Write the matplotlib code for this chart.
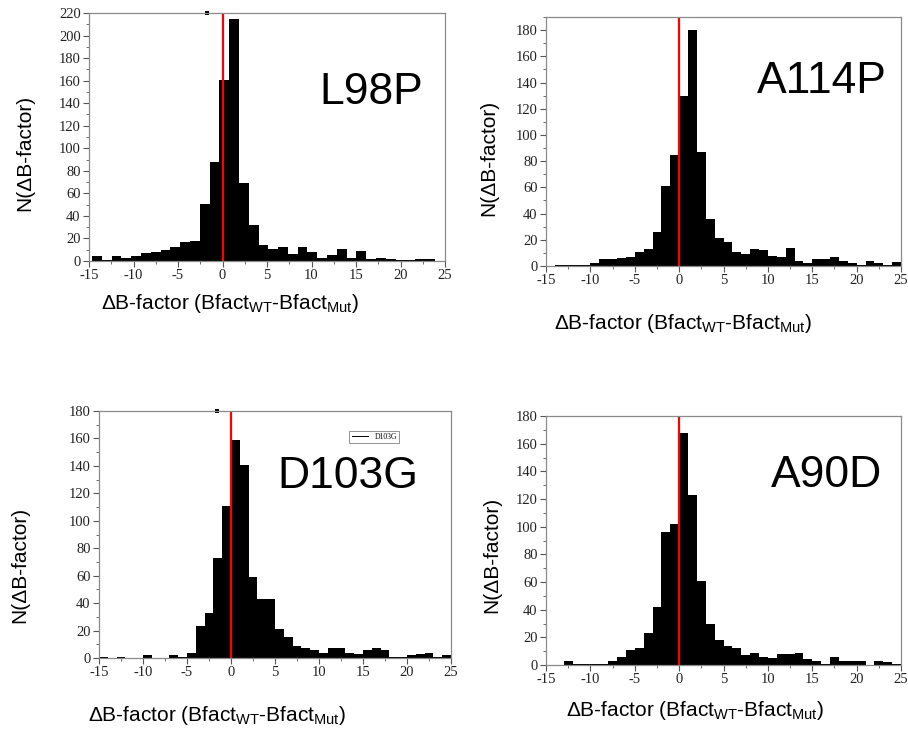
import numpy as np
import matplotlib
import matplotlib.pyplot as plt
from matplotlib.lines import Line2D

matplotlib.use('Agg')

plt.rcParams['mathtext.fontset'] = 'custom'
plt.rcParams['mathtext.rm'] = 'Liberation Sans'
plt.rcParams['axes.unicode_minus'] = False

# histogram counts
l98p_start, l98p_width = -14.65, 1.1
l98p_counts = [4, 1, 4, 3, 4, 7, 8, 10, 12, 17, 18, 51, 88, 161, 215, 69, 32,
               14, 11, 12, 6, 12, 8, 3, 5, 11, 3, 9, 2, 3, 2, 1, 1, 2, 2]

a114p_start, a114p_width = -15, 1
a114p_counts = [0, 1, 1, 1, 1, 2, 5, 5, 6, 7, 11, 13, 26, 61, 85,
                130, 180, 87, 36, 21, 18, 11, 9, 13, 12, 8, 7, 14, 4, 2,
                5, 5, 7, 4, 2, 1, 4, 2, 1, 3]

d103g_start, d103g_width = -15, 1
d103g_counts = [1, 0, 1, 0, 0, 2, 0, 0, 2, 1, 4, 23, 33, 73, 111,
                159, 141, 59, 43, 43, 21, 15, 9, 7, 6, 4, 7, 7, 4, 3,
                6, 7, 6, 1, 1, 2, 3, 4, 1, 2]

a90d_start, a90d_width = -15, 1
a90d_counts = [0, 0, 3, 1, 1, 1, 1, 3, 6, 11, 12, 23, 42, 96, 102,
               168, 123, 61, 30, 18, 14, 12, 7, 9, 6, 5, 8, 8, 9, 4,
               3, 1, 6, 3, 3, 3, 0, 3, 2, 1]

names = ["L98P", "A114P", "D103G", "A90D"]
x_ticks = [-15, -10, -5, 0, 5, 10, 15, 20, 25]

W, H = 908, 730
fig = plt.figure(figsize=(W / 100, H / 100), dpi=100)


def px_axes(left, top, right, bottom):
    return fig.add_axes([left / W, 1 - bottom / H, (right - left) / W, (bottom - top) / H])


def draw_hist(ax, start, width, counts, ymax):
    edges = start + width * np.arange(len(counts) + 1)
    ax.stairs(counts, edges, fill=True, color='black', linewidth=0)
    ax.axvline(0, color='#ff0000', lw=1.6)
    ax.set_xlim(-15, 25)
    ax.set_ylim(0, ymax)
    ax.set_xticks(x_ticks)
    ax.set_xticks(np.arange(-15, 25.1, 2.5), minor=True)
    ax.set_yticks(np.arange(0, ymax + 1, 20))
    ax.set_yticks(np.arange(0, ymax + 1, 10), minor=True)
    for s in ax.spines.values():
        s.set_color('#8a8a8a')
        s.set_linewidth(0.9)
    ax.tick_params(which='both', direction='out', color='#555555', labelcolor='#222222')
    ax.tick_params(which='major', length=4, width=0.8, pad=2)
    ax.tick_params(which='minor', length=2, width=0.6)
    for lab in ax.get_xticklabels() + ax.get_yticklabels():
        lab.set_fontfamily('Liberation Serif')
        lab.set_fontsize(10.5)


ax1 = px_axes(89, 13, 445, 261)
draw_hist(ax1, l98p_start, l98p_width, l98p_counts, 220)
# little black dash sitting on the top frame
ax1.plot([-1.7], [220], marker='s', color='black', ms=2.5, mew=0, clip_on=False)

ax2 = px_axes(546, 17, 901, 266)
draw_hist(ax2, a114p_start, a114p_width, a114p_counts, 190)

ax3 = px_axes(99, 411, 451, 658)
draw_hist(ax3, d103g_start, d103g_width, d103g_counts, 180)
ax3.plot([-1.6], [180], marker='s', color='black', ms=2.5, mew=0, clip_on=False)
leg = ax3.legend(handles=[Line2D([], [], color='black', lw=0.7)], labels=['D103G'],
                 loc='upper left', bbox_to_anchor=(0.70, 0.935), frameon=True,
                 fancybox=False, edgecolor='#777777', handlelength=2.2,
                 borderpad=0.3, prop={'family': 'Liberation Serif', 'size': 5.5})
leg.get_frame().set_linewidth(0.7)

ax4 = px_axes(546, 416, 901, 665)
draw_hist(ax4, a90d_start, a90d_width, a90d_counts, 180)

# big mutation names, x centre / baseline in pixels
name_pos = [(371, 104), (822, 93), (348, 488), (827, 487)]
for name, (x, y) in zip(names, name_pos):
    fig.text(x / W, 1 - y / H, name, ha='center', va='baseline',
             fontsize=32, family='Liberation Sans')

xlabel = 'ΔB-factor (Bfact$_{\\mathrm{WT}}$-Bfact$_{\\mathrm{Mut}}$)'
xlab_pos = [(230, 309), (683, 329), (217, 721), (695, 716)]
for x, y in xlab_pos:
    fig.text(x / W, 1 - y / H, xlabel, ha='center', va='baseline',
             fontsize=15, family='Liberation Sans')

ylab_pos = [(25, 153), (489, 158), (20, 565), (492, 555)]
for x, y in ylab_pos:
    fig.text(x / W, 1 - y / H, 'N(ΔB-factor)', ha='center', va='center',
             rotation=90, fontsize=15, family='Liberation Sans')

fig.savefig('out.png', dpi=100)
